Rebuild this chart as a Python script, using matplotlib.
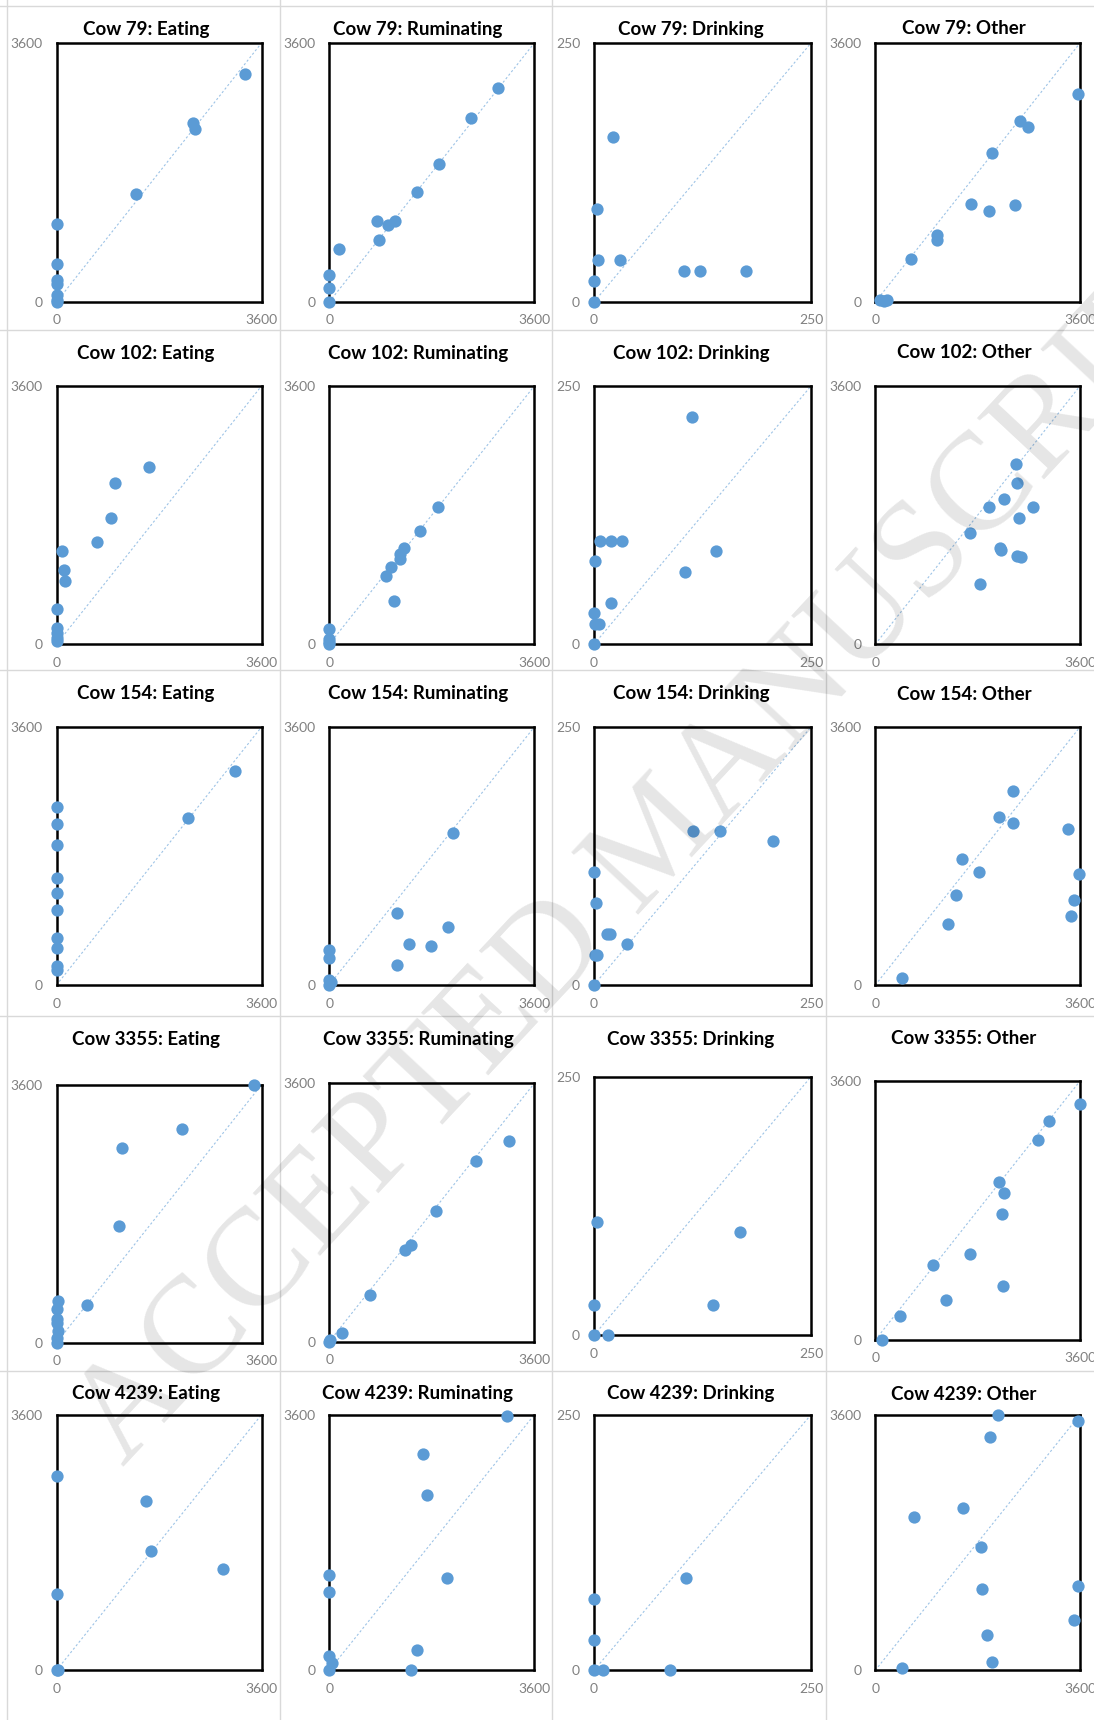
import matplotlib
matplotlib.use('Agg')
import matplotlib.pyplot as plt
from matplotlib.lines import Line2D

plt.rcParams['font.family'] = ['Lato', 'DejaVu Sans']

W, H = 1094, 1720

cows = ['79', '102', '154', '3355', '4239']
behaviours = ['Eating', 'Ruminating', 'Drinking', 'Other']
axis_max = [3600, 3600, 250, 3600]

# Cow 79
c79_eat_x = [3307, 2400, 2429, 1393, 0, 0, 0, 0, 0, 0, 0]
c79_eat_y = [3164, 2493, 2400, 1506, 1080, 533, 301, 255, 93, 30, 0]
c79_rum_x = [2956, 2494, 1920, 1540, 837, 1036, 1153, 878, 176, 0, 0, 0]
c79_rum_y = [2979, 2562, 1923, 1529, 1126, 1075, 1121, 866, 732, 371, 195, 0]
c79_dri_x = [22.3, 3.1, 4.6, 29.6, 0, 0, 103.5, 121.9, 175.4]
c79_dri_y = [159.3, 89.4, 40.2, 40.2, 19.9, 0, 29.9, 29.9, 29.9]
c79_oth_x = [3565, 2543, 2684, 2044, 1685, 2008, 2449, 1086, 1086, 628, 88, 206, 147]
c79_oth_y = [2896, 2516, 2432, 2071, 1358, 1265, 1348, 936, 866, 602, 23, 32, 14]

# Cow 102
c102_eat_x = [1621, 1033, 965, 718, 99, 124, 155, 0, 0, 0, 0, 0]
c102_eat_y = [2467, 2244, 1765, 1426, 1305, 1036, 883, 488, 232, 153, 84, 40]
c102_rum_x = [1914, 1588, 1317, 1237, 1237, 1077, 997, 1132, 0, 0, 0, 0]
c102_rum_y = [1909, 1575, 1338, 1259, 1194, 1073, 957, 609, 209, 80, 37, 0]
c102_dri_x = [112.5, 7.3, 19.8, 32.3, 1.2, 140.3, 104.4, 19.8, 0, 1.2, 6.0, 0]
c102_dri_y = [220.3, 100.1, 100.1, 100.1, 80.4, 90.1, 70.1, 40.1, 30.0, 20.0, 20.0, 0]
c102_oth_x = [2478, 2497, 2268, 2003, 2768, 2527, 1671, 2201, 2213, 2484, 2564, 1843]
c102_oth_y = [2507, 2247, 2019, 1916, 1916, 1763, 1549, 1349, 1312, 1237, 1214, 837]

# Cow 154
c154_eat_x = [3127, 2316, 0, 0, 0, 0, 0, 0, 0, 0, 0, 0]
c154_eat_y = [2987, 2327, 2490, 2253, 1956, 1491, 1287, 1045, 650, 520, 265, 209]
c154_rum_x = [2181, 1186, 2083, 1395, 1782, 1186, 0, 0, 0, 0, 30]
c154_rum_y = [2118, 1003, 808, 571, 543, 274, 488, 381, 70, 0, 40]
c154_dri_x = [113.9, 145.1, 206.2, 0, 2.4, 14.5, 18.0, 38.1, 0.8, 3.2, 0]
c154_dri_y = [149.7, 149.7, 139.4, 109.6, 79.6, 49.5, 49.5, 39.5, 29.1, 29.1, 0]
c154_oth_x = [2425, 2172, 2418, 3391, 1520, 1822, 3588, 1428, 3495, 3446, 1286, 474]
c154_oth_y = [2703, 2350, 2262, 2179, 1765, 1575, 1542, 1250, 1185, 957, 850, 93]

# Cow 3355
c3355_eat_x = [3460, 2199, 1155, 1106, 528, 25, 0, 0, 0, 25, 0, 0]
c3355_eat_y = [3600, 2981, 2721, 1633, 526, 586, 465, 326, 270, 167, 60, 0]
c3355_rum_x = [3159, 2571, 1873, 1433, 1335, 722, 233, 0, 20]
c3355_rum_y = [2801, 2518, 1821, 1342, 1273, 646, 116, 0, 20]
c3355_dri_x = [3.2, 168.0, 0, 136.7, 0, 16.1]
c3355_dri_y = [109.5, 99.5, 29.3, 29.3, 0, 0]
c3355_oth_x = [3600, 3059, 2863, 2175, 2261, 2236, 1659, 1008, 2248, 1241, 442, 123]
c3355_oth_y = [3276, 3044, 2780, 2201, 2039, 1747, 1200, 1047, 755, 556, 338, 0]

# Cow 4239
c4239_eat_x = [0, 1569, 1668, 2929, 0, 0, 20]
c4239_eat_y = [2741, 2389, 1680, 1427, 1080, 0, 10]
c4239_rum_x = [3114, 1655, 1711, 2062, 0, 0, 1545, 0, 43, 0, 1440]
c4239_rum_y = [3577, 3041, 2474, 1305, 1338, 1098, 291, 197, 103, 0, 0]
c4239_dri_x = [105.8, 0, 0, 0, 10.9, 87.5]
c4239_dri_y = [90.3, 69.8, 30.0, 0, 0, 0]
c4239_oth_x = [2151, 3557, 2022, 1535, 678, 1855, 3569, 1874, 3489, 1960, 2047, 475]
c4239_oth_y = [3600, 3506, 3290, 2281, 2154, 1737, 1187, 1141, 709, 502, 117, 33]

data = {
    ('79', 'Eating'): (c79_eat_x, c79_eat_y),
    ('79', 'Ruminating'): (c79_rum_x, c79_rum_y),
    ('79', 'Drinking'): (c79_dri_x, c79_dri_y),
    ('79', 'Other'): (c79_oth_x, c79_oth_y),
    ('102', 'Eating'): (c102_eat_x, c102_eat_y),
    ('102', 'Ruminating'): (c102_rum_x, c102_rum_y),
    ('102', 'Drinking'): (c102_dri_x, c102_dri_y),
    ('102', 'Other'): (c102_oth_x, c102_oth_y),
    ('154', 'Eating'): (c154_eat_x, c154_eat_y),
    ('154', 'Ruminating'): (c154_rum_x, c154_rum_y),
    ('154', 'Drinking'): (c154_dri_x, c154_dri_y),
    ('154', 'Other'): (c154_oth_x, c154_oth_y),
    ('3355', 'Eating'): (c3355_eat_x, c3355_eat_y),
    ('3355', 'Ruminating'): (c3355_rum_x, c3355_rum_y),
    ('3355', 'Drinking'): (c3355_dri_x, c3355_dri_y),
    ('3355', 'Other'): (c3355_oth_x, c3355_oth_y),
    ('4239', 'Eating'): (c4239_eat_x, c4239_eat_y),
    ('4239', 'Ruminating'): (c4239_rum_x, c4239_rum_y),
    ('4239', 'Drinking'): (c4239_dri_x, c4239_dri_y),
    ('4239', 'Other'): (c4239_oth_x, c4239_oth_y),
}

# layout in pixels of the reference
col_left = [56.5, 329.2, 594.0, 875.3]
col_right = [261.5, 534.3, 811.0, 1080.0]
box_top = [[43] * 4, [386] * 4, [727] * 4,
           [1084.7, 1083.3, 1076.7, 1081], [1414.7] * 4]
box_bot = [[302] * 4, [644.3] * 4, [985] * 4,
           [1342.7, 1341.7, 1335.3, 1340], [1670.3] * 4]
title_x = [146, 418, 691, 964]
title_y = [29, 353, 694, 1039, 1394]
grid_h = [6, 330, 670, 1016, 1371]
grid_v = [7, 280, 552, 826]

fig = plt.figure(figsize=(W / 100, H / 100), dpi=100)

for y in grid_h:
    fig.add_artist(Line2D([0, 1], [1 - y / H] * 2, transform=fig.transFigure,
                          color='#d9d9d9', lw=1, zorder=0))
for x in grid_v:
    fig.add_artist(Line2D([x / W] * 2, [0, 1], transform=fig.transFigure,
                          color='#d9d9d9', lw=1, zorder=0))

for r, cow in enumerate(cows):
    for c, beh in enumerate(behaviours):
        l, rt = col_left[c], col_right[c]
        t, b = box_top[r][c], box_bot[r][c]
        ax = fig.add_axes([l / W, 1 - b / H, (rt - l) / W, (b - t) / H])
        m = axis_max[c]
        xs, ys = data[(cow, beh)]
        ax.plot([0, m], [0, m], color='#9dc3e6', lw=0.8, dashes=(2, 2), zorder=1)
        ax.scatter(xs, ys, s=78, color='#5b9bd5', linewidths=0, zorder=3, clip_on=False)
        ax.set_xlim(0, m)
        ax.set_ylim(0, m)
        ax.set_xticks([0, m])
        ax.set_yticks([0, m])
        ax.tick_params(length=0, labelsize=10, labelcolor='#808080')
        ax.tick_params(axis='x', pad=9)
        ax.tick_params(axis='y', pad=10)
        for sp in ax.spines.values():
            sp.set_linewidth(1.8)
            sp.set_color('black')
        fig.text(title_x[c] / W, 1 - title_y[r] / H, f'Cow {cow}: {beh}',
                 ha='center', va='center', fontsize=13.5, fontweight='bold')

fig.text(660 / W, 1 - 842 / H, 'ACCEPTED MANUSCRIPT', rotation=47,
         rotation_mode='anchor', ha='center', va='center', fontsize=100,
         family='Liberation Serif', color='black', alpha=0.1, zorder=10)

fig.savefig('out.png', dpi=100)
